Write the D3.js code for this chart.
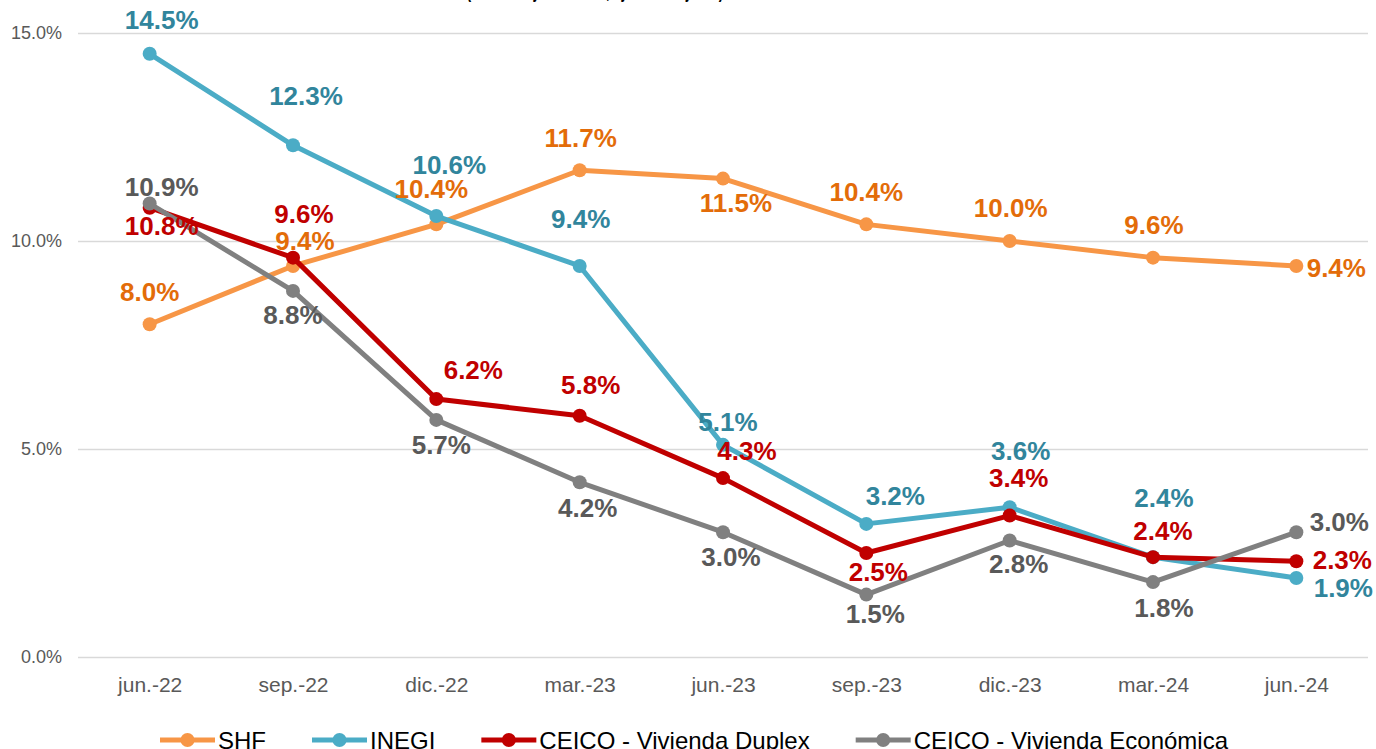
<!DOCTYPE html>
<html>
<head>
<meta charset="utf-8">
<script src="https://cdn.jsdelivr.net/npm/d3@7"></script>
<style>
  body { margin: 0; background: #fff; }
  svg { font-family: "Liberation Sans", Arial, sans-serif; display: block; }
</style>
</head>
<body>
<div id="chart"></div>
<script>
  const categories = ['jun.-22', 'sep.-22', 'dic.-22', 'mar.-23', 'jun.-23', 'sep.-23', 'dic.-23', 'mar.-24', 'jun.-24'];
  const shf = [8.0, 9.4, 10.4, 11.7, 11.5, 10.4, 10.0, 9.6, 9.4];
  const inegi = [14.5, 12.3, 10.6, 9.4, 5.1, 3.2, 3.6, 2.4, 1.9];
  const duplex = [10.8, 9.6, 6.2, 5.8, 4.3, 2.5, 3.4, 2.4, 2.3];
  const economica = [10.9, 8.8, 5.7, 4.2, 3.0, 1.5, 2.8, 1.8, 3.0];
  const yTicks = [0, 5, 10, 15];

  // label offsets from each point (pixels), roughly as placed in the original
  const shfOffsets = [[0, -32], [12, -25], [-5, -35], [1, -32], [13, 24], [0, -32], [1, -33], [1, -33], [40, 2]];
  const inegiOffsets = [[12, -34], [13, -49], [13, -51], [1, -47], [5, -23], [29, -28], [11, -56], [11, -59], [47, 10]];
  const duplexOffsets = [[12, 18], [11, -44], [37, -29], [11, -31], [24, -27], [12, 19], [9, -38], [10, -26], [46, -1]];
  const economicaOffsets = [[12, -17], [0, 24], [5, 25], [8, 26], [8, 25], [9, 19], [9, 23], [11, 26], [43, -10]];

  const series = [
    { name: 'SHF', values: shf, offsets: shfOffsets, line: '#F79646', label: '#E36C09' },
    { name: 'INEGI', values: inegi, offsets: inegiOffsets, line: '#4BACC6', label: '#31859C' },
    { name: 'CEICO - Vivienda Duplex', values: duplex, offsets: duplexOffsets, line: '#C00000', label: '#C00000' },
    { name: 'CEICO - Vivienda Económica', values: economica, offsets: economicaOffsets, line: '#808080', label: '#595959' },
  ];

  const width = 1376;
  const height = 749;
  const plot = { left: 78, right: 1368, top: 33, bottom: 657 };

  const svg = d3.select('#chart').append('svg')
    .attr('width', width)
    .attr('height', height);

  // title, mostly cut off at the top edge
  svg.append('text')
    .attr('x', 595)
    .attr('y', -2)
    .attr('text-anchor', 'middle')
    .attr('textLength', 257)
    .attr('lengthAdjust', 'spacingAndGlyphs')
    .style('font-size', '20px')
    .style('font-weight', 'bold')
    .text('(Tasa de ajuste anual, ajustada a junio)');

  const x = d3.scalePoint()
    .domain(categories)
    .range([plot.left, plot.right])
    .padding(0.5);

  const y = d3.scaleLinear()
    .domain([0, 15])
    .range([plot.bottom, plot.top]);

  // gridlines + y labels
  const yAxis = svg.append('g')
    .attr('transform', `translate(${plot.left},0)`)
    .call(d3.axisLeft(y)
      .tickValues(yTicks)
      .tickSize(-(plot.right - plot.left))
      .tickPadding(16)
      .tickFormat(d => `${d3.format('.1f')(d)}%`));
  yAxis.select('.domain').remove();
  yAxis.selectAll('line').attr('stroke', '#d9d9d9').attr('stroke-width', 1.5);
  yAxis.selectAll('text')
    .attr('fill', '#595959')
    .style('font-size', '18px');

  // x labels
  const xAxis = svg.append('g')
    .attr('transform', `translate(0,${plot.bottom})`)
    .call(d3.axisBottom(x).tickSize(0).tickPadding(20));
  xAxis.select('.domain').remove();
  xAxis.selectAll('text')
    .attr('fill', '#595959')
    .style('font-size', '21px');

  const line = d3.line()
    .x((d, i) => x(categories[i]))
    .y(d => y(d));

  series.forEach((s) => {
    const g = svg.append('g');
    g.append('path')
      .datum(s.values)
      .attr('fill', 'none')
      .attr('stroke', s.line)
      .attr('stroke-width', 5)
      .attr('stroke-linejoin', 'round')
      .attr('d', line);
    g.selectAll('circle')
      .data(s.values)
      .join('circle')
      .attr('cx', (d, i) => x(categories[i]))
      .attr('cy', d => y(d))
      .attr('r', 7)
      .attr('fill', s.line);
  });

  // data labels on top of all lines
  series.forEach((s) => {
    svg.append('g').selectAll('text')
      .data(s.values)
      .join('text')
      .attr('x', (d, i) => x(categories[i]) + s.offsets[i][0])
      .attr('y', (d, i) => y(d) + s.offsets[i][1])
      .attr('text-anchor', 'middle')
      .attr('dominant-baseline', 'central')
      .attr('fill', s.label)
      .style('font-size', '26px')
      .style('font-weight', 'bold')
      .text(d => `${d3.format('.1f')(d)}%`);
  });

  // legend
  const legend = svg.append('g').attr('transform', 'translate(160,740)');
  let lx = 0;
  series.forEach((s) => {
    const item = legend.append('g').attr('transform', `translate(${lx},0)`);
    item.append('line')
      .attr('x1', 0).attr('x2', 55)
      .attr('stroke', s.line)
      .attr('stroke-width', 5);
    item.append('circle')
      .attr('cx', 27.5)
      .attr('r', 7)
      .attr('fill', s.line);
    const t = item.append('text')
      .attr('x', 58)
      .attr('dominant-baseline', 'central')
      .attr('fill', '#000')
      .style('font-size', '24px')
      .text(s.name);
    lx += 58 + t.node().getComputedTextLength() + 46;
  });
</script>
</body>
</html>
